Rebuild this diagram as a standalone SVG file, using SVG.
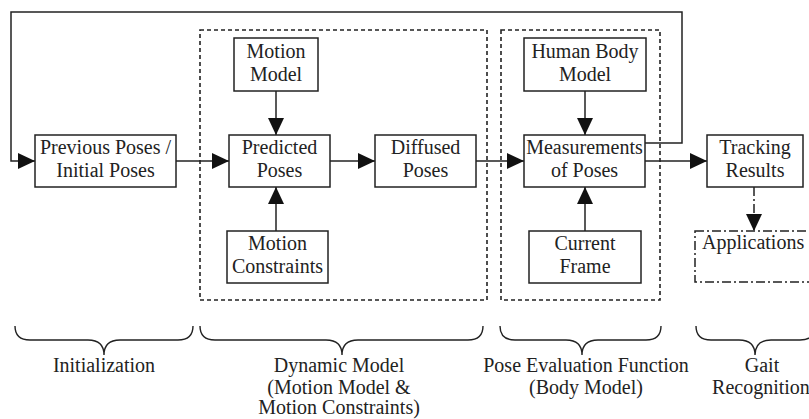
<svg xmlns="http://www.w3.org/2000/svg" width="809" height="419" viewBox="0 0 809 419">
<style>
.box{fill:#fff;stroke:#222;stroke-width:1.5}
.grp{fill:none;stroke:#222;stroke-width:1.6;stroke-dasharray:4 3}
.dd{fill:none;stroke:#222;stroke-width:1.5;stroke-dasharray:9 3 2 3}
.ln{fill:none;stroke:#222;stroke-width:1.5}
.br{fill:none;stroke:#222;stroke-width:1.4}
text{font-family:'Liberation Serif','DejaVu Serif',serif;font-size:20px;fill:#222;text-anchor:middle}
</style>
<defs>
<marker id="ah" markerUnits="userSpaceOnUse" markerWidth="18" markerHeight="16" refX="17" refY="8" orient="auto">
<path d="M0,0 L17,8 L0,16 z" fill="#111"/>
</marker>
</defs>
<rect width="809" height="419" fill="#fff"/>
<g id="groups">
<rect class="grp" x="200" y="30" width="287" height="270"/>
<rect class="grp" x="501" y="30" width="159" height="270"/>
</g>
<g id="connectors">
<path class="ln" d="M176,161 H229" marker-end="url(#ah)"/>
<path class="ln" d="M330,161 H375" marker-end="url(#ah)"/>
<path class="ln" d="M476,161 H524" marker-end="url(#ah)"/>
<path class="ln" d="M645,161 H707" marker-end="url(#ah)"/>
<path class="ln" d="M276,91 V135" marker-end="url(#ah)"/>
<path class="ln" d="M276,231 V187" marker-end="url(#ah)"/>
<path class="ln" d="M585,91 V135" marker-end="url(#ah)"/>
<path class="ln" d="M585,231 V187" marker-end="url(#ah)"/>
<path class="ln" d="M645,143 H682 V12 H11 V161 H35" marker-end="url(#ah)"/>
<path class="dd" d="M754,187 V231" marker-end="url(#ah)"/>
</g>
<g font-family="Liberation Serif, DejaVu Serif, serif">
<g id="previous">
<rect class="box" x="35" y="135" width="141" height="52"/>
<text x="105.5" y="154">Previous Poses /</text>
<text x="105.5" y="177">Initial Poses</text>
</g>
<g id="motion-model">
<rect class="box" x="234" y="38" width="84" height="53"/>
<text x="276" y="58">Motion</text>
<text x="276" y="81">Model</text>
</g>
<g id="predicted">
<rect class="box" x="229" y="135" width="101" height="52"/>
<text x="279.5" y="154">Predicted</text>
<text x="279.5" y="177">Poses</text>
</g>
<g id="constraints">
<rect class="box" x="227" y="231" width="101" height="52"/>
<text x="277.5" y="250">Motion</text>
<text x="277.5" y="273">Constraints</text>
</g>
<g id="diffused">
<rect class="box" x="375" y="135" width="101" height="52"/>
<text x="425.5" y="154">Diffused</text>
<text x="425.5" y="177">Poses</text>
</g>
<g id="body-model">
<rect class="box" x="524" y="38" width="122" height="53"/>
<text x="585" y="58">Human Body</text>
<text x="585" y="81">Model</text>
</g>
<g id="measurements">
<rect class="box" x="524" y="135" width="121" height="52"/>
<text x="584.5" y="154">Measurements</text>
<text x="584.5" y="177">of Poses</text>
</g>
<g id="current-frame">
<rect class="box" x="529" y="231" width="112" height="52"/>
<text x="585" y="250">Current</text>
<text x="585" y="273">Frame</text>
</g>
<g id="tracking">
<rect class="box" x="707" y="135" width="96" height="52"/>
<text x="755" y="154">Tracking</text>
<text x="755" y="177">Results</text>
</g>
<g id="applications">
<rect class="dd" x="695" y="231" width="120" height="51"/>
<text x="702" y="249" style="text-anchor:start">Applications</text>
</g>
<g id="braces">
<path class="br" d="M15,326 Q15,340 30,340 L88,340 Q104,340 104,355 Q104,340 120,340 L178,340 Q193,340 193,326"/>
<path class="br" d="M200,326 Q200,340 215,340 L326,340 Q342,340 342,355 Q342,340 358,340 L468,340 Q483,340 483,326"/>
<path class="br" d="M500,326 Q500,340 515,340 L566,340 Q582,340 582,355 Q582,340 598,340 L646,340 Q661,340 661,326"/>
<path class="br" d="M696,326 Q696,340 711,340 L739,340 Q755,340 755,355 Q755,340 771,340 L800,340 Q815,340 815,326"/>
</g>
<g id="labels">
<text x="104" y="372">Initialization</text>
<text x="339" y="372">Dynamic Model</text>
<text x="339" y="394">(Motion Model &amp;</text>
<text x="339" y="414">Motion Constraints)</text>
<text x="586" y="372">Pose Evaluation Function</text>
<text x="586" y="394">(Body Model)</text>
<text x="762" y="372">Gait</text>
<text x="761" y="394">Recognition</text>
</g>
</g>
</svg>
